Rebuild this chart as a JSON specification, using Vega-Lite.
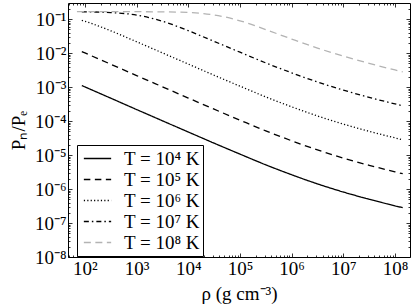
{
  "$schema": "https://vega.github.io/schema/vega-lite/v6.json",
  "width": 342,
  "height": 254,
  "autosize": {"type": "none"},
  "padding": {"left": 68, "top": 3, "right": 5, "bottom": 48},
  "config": {
    "view": {"stroke": "black", "strokeWidth": 1},
    "font": "Liberation Serif",
    "axis": {"grid": false, "domain": false, "tickColor": "black", "tickWidth": 0.8, "labelFont": "Liberation Serif", "labelFontSize": 19, "labelColor": "black", "titleFont": "Liberation Serif", "titleFontSize": 19, "titleFontWeight": "normal", "titleColor": "black"},
    "legend": {"labelFont": "Liberation Serif", "labelFontSize": 19, "labelColor": "black"}
  },
  "data": {"values": [
    {"T": "T = 10⁴ K", "rho": 87, "ratio": 1.114e-3},
    {"T": "T = 10⁴ K", "rho": 100, "ratio": 1.016e-3},
    {"T": "T = 10⁴ K", "rho": 316, "ratio": 4.73e-4},
    {"T": "T = 10⁴ K", "rho": 1000, "ratio": 2.19e-4},
    {"T": "T = 10⁴ K", "rho": 3160, "ratio": 1.023e-4},
    {"T": "T = 10⁴ K", "rho": 10000, "ratio": 4.78e-5},
    {"T": "T = 10⁴ K", "rho": 31600, "ratio": 2.24e-5},
    {"T": "T = 10⁴ K", "rho": 100000, "ratio": 1.069e-5},
    {"T": "T = 10⁴ K", "rho": 316000, "ratio": 5.16e-6},
    {"T": "T = 10⁴ K", "rho": 1000000, "ratio": 2.64e-6},
    {"T": "T = 10⁴ K", "rho": 3160000, "ratio": 1.419e-6},
    {"T": "T = 10⁴ K", "rho": 10000000, "ratio": 8.18e-7},
    {"T": "T = 10⁴ K", "rho": 31600000, "ratio": 5.01e-7},
    {"T": "T = 10⁴ K", "rho": 100000000, "ratio": 3.21e-7},
    {"T": "T = 10⁴ K", "rho": 141000000, "ratio": 2.83e-7},
    {"T": "T = 10⁵ K", "rho": 87, "ratio": 1.114e-2},
    {"T": "T = 10⁵ K", "rho": 100, "ratio": 1.016e-2},
    {"T": "T = 10⁵ K", "rho": 316, "ratio": 4.73e-3},
    {"T": "T = 10⁵ K", "rho": 1000, "ratio": 2.19e-3},
    {"T": "T = 10⁵ K", "rho": 3160, "ratio": 1.023e-3},
    {"T": "T = 10⁵ K", "rho": 10000, "ratio": 4.78e-4},
    {"T": "T = 10⁵ K", "rho": 31600, "ratio": 2.24e-4},
    {"T": "T = 10⁵ K", "rho": 100000, "ratio": 1.069e-4},
    {"T": "T = 10⁵ K", "rho": 316000, "ratio": 5.16e-5},
    {"T": "T = 10⁵ K", "rho": 1000000, "ratio": 2.64e-5},
    {"T": "T = 10⁵ K", "rho": 3160000, "ratio": 1.419e-5},
    {"T": "T = 10⁵ K", "rho": 10000000, "ratio": 8.18e-6},
    {"T": "T = 10⁵ K", "rho": 31600000, "ratio": 5.01e-6},
    {"T": "T = 10⁵ K", "rho": 100000000, "ratio": 3.21e-6},
    {"T": "T = 10⁵ K", "rho": 141000000, "ratio": 2.83e-6},
    {"T": "T = 10⁶ K", "rho": 87, "ratio": 0.0927},
    {"T": "T = 10⁶ K", "rho": 100, "ratio": 0.0869},
    {"T": "T = 10⁶ K", "rho": 316, "ratio": 0.0455},
    {"T": "T = 10⁶ K", "rho": 1000, "ratio": 0.02168},
    {"T": "T = 10⁶ K", "rho": 3160, "ratio": 0.01019},
    {"T": "T = 10⁶ K", "rho": 10000, "ratio": 4.78e-3},
    {"T": "T = 10⁶ K", "rho": 31600, "ratio": 2.24e-3},
    {"T": "T = 10⁶ K", "rho": 100000, "ratio": 1.069e-3},
    {"T": "T = 10⁶ K", "rho": 316000, "ratio": 5.16e-4},
    {"T": "T = 10⁶ K", "rho": 1000000, "ratio": 2.64e-4},
    {"T": "T = 10⁶ K", "rho": 3160000, "ratio": 1.419e-4},
    {"T": "T = 10⁶ K", "rho": 10000000, "ratio": 8.18e-5},
    {"T": "T = 10⁶ K", "rho": 31600000, "ratio": 5.01e-5},
    {"T": "T = 10⁶ K", "rho": 100000000, "ratio": 3.21e-5},
    {"T": "T = 10⁶ K", "rho": 141000000, "ratio": 2.83e-5},
    {"T": "T = 10⁷ K", "rho": 87, "ratio": 0.1648},
    {"T": "T = 10⁷ K", "rho": 100, "ratio": 0.1644},
    {"T": "T = 10⁷ K", "rho": 316, "ratio": 0.157},
    {"T": "T = 10⁷ K", "rho": 1000, "ratio": 0.1324},
    {"T": "T = 10⁷ K", "rho": 3160, "ratio": 0.0873},
    {"T": "T = 10⁷ K", "rho": 10000, "ratio": 0.0459},
    {"T": "T = 10⁷ K", "rho": 31600, "ratio": 0.02223},
    {"T": "T = 10⁷ K", "rho": 100000, "ratio": 0.01067},
    {"T": "T = 10⁷ K", "rho": 316000, "ratio": 5.16e-3},
    {"T": "T = 10⁷ K", "rho": 1000000, "ratio": 2.64e-3},
    {"T": "T = 10⁷ K", "rho": 3160000, "ratio": 1.419e-3},
    {"T": "T = 10⁷ K", "rho": 10000000, "ratio": 8.18e-4},
    {"T": "T = 10⁷ K", "rho": 31600000, "ratio": 5.01e-4},
    {"T": "T = 10⁷ K", "rho": 100000000, "ratio": 3.21e-4},
    {"T": "T = 10⁷ K", "rho": 141000000, "ratio": 2.83e-4},
    {"T": "T = 10⁸ K", "rho": 70, "ratio": 0.1667},
    {"T": "T = 10⁸ K", "rho": 100, "ratio": 0.1667},
    {"T": "T = 10⁸ K", "rho": 316, "ratio": 0.1665},
    {"T": "T = 10⁸ K", "rho": 1000, "ratio": 0.1663},
    {"T": "T = 10⁸ K", "rho": 3160, "ratio": 0.1644},
    {"T": "T = 10⁸ K", "rho": 10000, "ratio": 0.1574},
    {"T": "T = 10⁸ K", "rho": 31600, "ratio": 0.1337},
    {"T": "T = 10⁸ K", "rho": 100000, "ratio": 0.0899},
    {"T": "T = 10⁸ K", "rho": 316000, "ratio": 0.0493},
    {"T": "T = 10⁸ K", "rho": 1000000, "ratio": 0.02606},
    {"T": "T = 10⁸ K", "rho": 3160000, "ratio": 0.01413},
    {"T": "T = 10⁸ K", "rho": 10000000, "ratio": 8.17e-3},
    {"T": "T = 10⁸ K", "rho": 31600000, "ratio": 5.01e-3},
    {"T": "T = 10⁸ K", "rho": 100000000, "ratio": 3.21e-3},
    {"T": "T = 10⁸ K", "rho": 141000000, "ratio": 2.83e-3}
  ]},
  "layer": [
    {
      "mark": {"type": "line", "clip": true, "strokeWidth": 1.3, "interpolate": "monotone"},
      "encoding": {
        "x": {"field": "rho", "type": "quantitative",
          "scale": {"type": "log", "domain": [47, 195000000], "nice": false},
          "axis": {"orient": "bottom", "title": "ρ (g cm⁻³)", "titlePadding": 4,
            "values": [50,60,70,80,90,100,200,300,400,500,600,700,800,900,1000,2000,3000,4000,5000,6000,7000,8000,9000,10000,20000,30000,40000,50000,60000,70000,80000,90000,100000,200000,300000,400000,500000,600000,700000,800000,900000,1000000,2000000,3000000,4000000,5000000,6000000,7000000,8000000,9000000,10000000,20000000,30000000,40000000,50000000,60000000,70000000,80000000,90000000,100000000],
            "labelExpr": "abs(log(datum.value)/LN10 - round(log(datum.value)/LN10)) < 0.01 ? '10' + substring('⁰¹²³⁴⁵⁶⁷⁸⁹', round(log(datum.value)/LN10), round(log(datum.value)/LN10)+1) : ''",
            "tickSize": {"condition": {"test": "abs(log(datum.value)/LN10 - round(log(datum.value)/LN10)) < 0.01", "value": -4}, "value": -2},
            "labelPadding": 6, "labelFlush": false, "labelOverlap": false}},
        "y": {"field": "ratio", "type": "quantitative",
          "scale": {"type": "log", "domain": [1e-8, 0.3], "nice": false},
          "axis": {"orient": "left", "title": "Pₙ/Pₑ", "titlePadding": 6,
            "values": [1e-8,2e-8,3e-8,4e-8,5e-8,6e-8,7e-8,8e-8,9e-8,1e-7,2e-7,3e-7,4e-7,5e-7,6e-7,7e-7,8e-7,9e-7,1e-6,2e-6,3e-6,4e-6,5e-6,6e-6,7e-6,8e-6,9e-6,1e-5,2e-5,3e-5,4e-5,5e-5,6e-5,7e-5,8e-5,9e-5,1e-4,2e-4,3e-4,4e-4,5e-4,6e-4,7e-4,8e-4,9e-4,1e-3,2e-3,3e-3,4e-3,5e-3,6e-3,7e-3,8e-3,9e-3,1e-2,2e-2,3e-2,4e-2,5e-2,6e-2,7e-2,8e-2,9e-2,0.1,0.2],
            "labelExpr": "abs(log(datum.value)/LN10 - round(log(datum.value)/LN10)) < 0.01 ? '10⁻' + substring('⁰¹²³⁴⁵⁶⁷⁸⁹', round(-log(datum.value)/LN10), round(-log(datum.value)/LN10)+1) : ''",
            "tickSize": {"condition": {"test": "abs(log(datum.value)/LN10 - round(log(datum.value)/LN10)) < 0.01", "value": -4}, "value": -2},
            "labelPadding": 6, "labelFlush": false, "labelOverlap": false}},
        "color": {"field": "T", "type": "nominal",
          "scale": {"domain": ["T = 10⁴ K", "T = 10⁵ K", "T = 10⁶ K", "T = 10⁷ K", "T = 10⁸ K"], "range": ["#000000", "#000000", "#000000", "#000000", "#b3b3b3"]},
          "legend": {"title": null, "orient": "none", "legendX": 9, "legendY": 142, "strokeColor": "black", "fillColor": "white", "padding": 3, "symbolType": "M-1.4,0H1.4", "symbolSize": 380, "symbolOffset": 7, "symbolStrokeWidth": 1.3, "rowPadding": 0, "labelOffset": 16, "cornerRadius": 0}},
        "strokeDash": {"field": "T", "type": "nominal",
          "scale": {"domain": ["T = 10⁴ K", "T = 10⁵ K", "T = 10⁶ K", "T = 10⁷ K", "T = 10⁸ K"], "range": [[1, 0], [6.5, 4.5], [1.2, 2.2], [5, 3, 1.5, 3], [7, 4.5]]},
          "legend": {"title": null, "orient": "none", "legendX": 9, "legendY": 142, "strokeColor": "black", "fillColor": "white", "padding": 3, "symbolType": "M-1.4,0H1.4", "symbolSize": 380, "symbolOffset": 7, "symbolStrokeWidth": 1.3, "rowPadding": 0, "labelOffset": 16, "cornerRadius": 0}}
      }
    },
    {
      "mark": {"type": "line", "clip": true, "strokeOpacity": 0},
      "encoding": {
        "detail": {"field": "T"},
        "x": {"field": "rho", "type": "quantitative",
          "scale": {"type": "log", "domain": [47, 195000000], "nice": false},
          "axis": {"orient": "top", "title": null, "labels": false,
            "values": [50,60,70,80,90,100,200,300,400,500,600,700,800,900,1000,2000,3000,4000,5000,6000,7000,8000,9000,10000,20000,30000,40000,50000,60000,70000,80000,90000,100000,200000,300000,400000,500000,600000,700000,800000,900000,1000000,2000000,3000000,4000000,5000000,6000000,7000000,8000000,9000000,10000000,20000000,30000000,40000000,50000000,60000000,70000000,80000000,90000000,100000000],
            "tickSize": {"condition": {"test": "abs(log(datum.value)/LN10 - round(log(datum.value)/LN10)) < 0.01", "value": -4}, "value": -2}}},
        "y": {"field": "ratio", "type": "quantitative",
          "scale": {"type": "log", "domain": [1e-8, 0.3], "nice": false},
          "axis": {"orient": "right", "title": null, "labels": false,
            "values": [1e-8,2e-8,3e-8,4e-8,5e-8,6e-8,7e-8,8e-8,9e-8,1e-7,2e-7,3e-7,4e-7,5e-7,6e-7,7e-7,8e-7,9e-7,1e-6,2e-6,3e-6,4e-6,5e-6,6e-6,7e-6,8e-6,9e-6,1e-5,2e-5,3e-5,4e-5,5e-5,6e-5,7e-5,8e-5,9e-5,1e-4,2e-4,3e-4,4e-4,5e-4,6e-4,7e-4,8e-4,9e-4,1e-3,2e-3,3e-3,4e-3,5e-3,6e-3,7e-3,8e-3,9e-3,1e-2,2e-2,3e-2,4e-2,5e-2,6e-2,7e-2,8e-2,9e-2,0.1,0.2],
            "tickSize": {"condition": {"test": "abs(log(datum.value)/LN10 - round(log(datum.value)/LN10)) < 0.01", "value": -4}, "value": -2}}}
      }
    }
  ],
  "resolve": {"axis": {"x": "independent", "y": "independent"}}
}
